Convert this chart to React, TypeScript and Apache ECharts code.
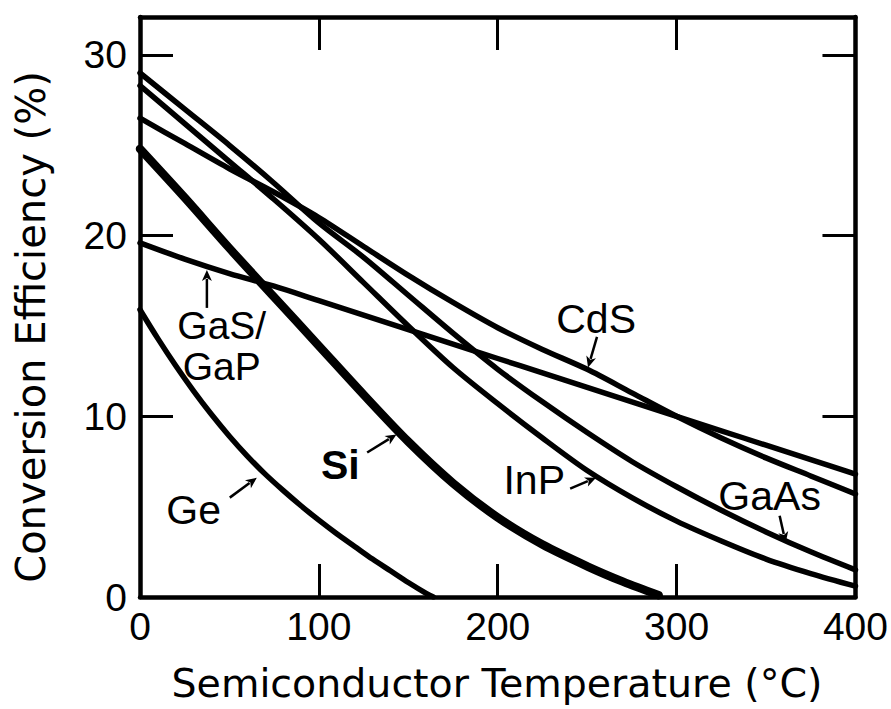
import React, { useEffect, useRef } from "react";
import * as echarts from "echarts";

// Axis ticks
const temperatureTicks = [0, 100, 200, 300, 400];
const efficiencyTicks = [0, 10, 20, 30];

// Curves (temperature °C, efficiency %)
const gaAsT = [0, 25, 50, 75, 100, 125, 150, 175, 200, 225, 250, 275, 300, 325, 350, 375, 400];
const gaAsEff = [29.0, 27.0, 25.0, 22.9, 20.7, 18.8, 16.7, 14.6, 12.6, 10.8, 9.1, 7.5, 6.1, 4.8, 3.6, 2.5, 1.5];

const inPT = [0, 25, 50, 75, 100, 125, 150, 175, 200, 225, 250, 275, 300, 325, 350, 375, 400];
const inPEff = [28.3, 26.2, 24.1, 22.0, 19.8, 17.4, 15.0, 12.7, 10.7, 8.8, 7.0, 5.5, 4.2, 3.1, 2.1, 1.3, 0.6];

const cdST = [0, 25, 50, 75, 100, 125, 150, 175, 200, 225, 250, 275, 300, 325, 350, 375, 400];
const cdSEff = [26.5, 25.1, 23.7, 22.4, 21.0, 19.4, 17.8, 16.3, 14.9, 13.7, 12.6, 11.3, 10.0, 8.8, 7.7, 6.7, 5.7];

const gaSGaPT = [0, 25, 50, 75, 100, 125, 150, 175, 200, 225, 250, 275, 300, 325, 350, 375, 400];
const gaSGaPEff = [19.6, 18.7, 17.9, 17.2, 16.4, 15.6, 14.8, 14.0, 13.2, 12.4, 11.6, 10.8, 10.0, 9.2, 8.4, 7.6, 6.8];

const siT = [0, 25, 50, 75, 100, 125, 150, 175, 200, 225, 250, 270, 290];
const siEff = [24.8, 22.1, 19.3, 16.6, 13.9, 11.2, 8.6, 6.3, 4.4, 2.9, 1.7, 0.85, 0.1];

const geT = [0, 10, 20, 30, 40, 50, 60, 70, 80, 90, 100, 110, 120, 130, 140, 150, 160, 164];
const geEff = [15.9, 14.3, 12.8, 11.4, 10.1, 8.9, 7.8, 6.8, 5.9, 5.05, 4.25, 3.5, 2.8, 2.1, 1.45, 0.8, 0.2, 0.0];

// Annotations in data coordinates: label position, arrow tail, arrow tip
const annotationNames = ["GaS/\nGaP", "CdS", "Si", "Ge", "InP", "GaAs"];
const annotationLabelAt = [[45.7, 13.9], [255, 15.4], [112, 7.3], [30, 4.8], [220.4, 6.5], [352, 5.6]];
const annotationArrowFrom = [[37.4, 16.0], [255.5, 14.4], [127, 8.0], [50.2, 5.5], [240.5, 6.0], [357.6, 4.5]];
const annotationArrowTo = [[37.4, 18.1], [250.5, 12.7], [143.4, 9.0], [65.3, 6.6], [255, 6.6], [361, 3.0]];
const annotationBold = [false, false, true, false, false, false];
const annotationSize = [39, 41, 41, 41, 41, 41];

const pairs = (xs: number[], ys: number[]) => xs.map((x, i) => [x, ys[i]]);

const seriesDefs = [
  { name: "GaAs", xs: gaAsT, ys: gaAsEff, width: 5.5 },
  { name: "InP", xs: inPT, ys: inPEff, width: 5.5 },
  { name: "CdS", xs: cdST, ys: cdSEff, width: 5.5 },
  { name: "GaS/GaP", xs: gaSGaPT, ys: gaSGaPEff, width: 5.5 },
  { name: "Si", xs: siT, ys: siEff, width: 8.5 },
  { name: "Ge", xs: geT, ys: geEff, width: 5.5 },
];

const LABEL_FONT = "Liberation Sans";
const NAME_FONT = "DejaVu Sans";

export default function App() {
  const ref = useRef<HTMLDivElement>(null);

  useEffect(() => {
    if (!ref.current) return;
    const chart = echarts.init(ref.current, undefined, { renderer: "svg" });

    const axisLine = { show: true, onZero: false, lineStyle: { color: "#000", width: 4.5 } };
    const tick = { show: true, inside: true, length: 33, lineStyle: { color: "#000", width: 3 } };
    const yMax = 32.1;

    chart.setOption({
      animation: false,
      backgroundColor: "#fff",
      grid: { left: 140, right: 34, top: 17, bottom: 112, containLabel: false },
      xAxis: [
        {
          type: "value",
          position: "bottom",
          min: temperatureTicks[0],
          max: temperatureTicks[temperatureTicks.length - 1],
          interval: 100,
          axisLine,
          axisTick: tick,
          splitLine: { show: false },
          axisLabel: {
            margin: 10,
            color: "#000",
            fontFamily: LABEL_FONT,
            fontSize: 39,
            formatter: (v: number) => (temperatureTicks.includes(v) ? String(v) : ""),
          },
        },
        {
          type: "value",
          position: "top",
          min: temperatureTicks[0],
          max: temperatureTicks[temperatureTicks.length - 1],
          interval: 100,
          axisLine,
          axisTick: tick,
          splitLine: { show: false },
          axisLabel: { show: false },
        },
      ],
      yAxis: [
        {
          type: "value",
          position: "left",
          min: efficiencyTicks[0],
          max: yMax,
          interval: 10,
          axisLine,
          axisTick: tick,
          splitLine: { show: false },
          axisLabel: {
            margin: 13,
            color: "#000",
            fontFamily: LABEL_FONT,
            fontSize: 39,
            showMaxLabel: false,
            formatter: (v: number) => (efficiencyTicks.includes(v) ? String(v) : ""),
          },
        },
        {
          type: "value",
          position: "right",
          min: efficiencyTicks[0],
          max: yMax,
          interval: 10,
          axisLine,
          axisTick: tick,
          splitLine: { show: false },
          axisLabel: { show: false },
        },
      ],
      series: seriesDefs.map((s) => ({
        type: "line",
        name: s.name,
        xAxisIndex: 0,
        yAxisIndex: 0,
        data: pairs(s.xs, s.ys),
        showSymbol: false,
        symbol: "none",
        smooth: 0.3,
        lineStyle: { color: "#000", width: s.width, cap: "round", join: "round" },
        emphasis: { disabled: true },
        silent: true,
      })),
    });

    const toPx = (p: number[]) =>
      chart.convertToPixel({ xAxisIndex: 0, yAxisIndex: 0 }, p) as number[];

    const graphics: any[] = [];
    annotationNames.forEach((name, i) => {
      const lp = toPx(annotationLabelAt[i]);
      graphics.push({
        type: "text",
        x: lp[0],
        y: lp[1],
        style: {
          text: name,
          fill: "#000",
          font: `${annotationBold[i] ? "bold " : ""}${annotationSize[i]}px "${LABEL_FONT}"`,
          align: "center",
          verticalAlign: "middle",
          lineHeight: 41,
        },
        silent: true,
      });
      const a = toPx(annotationArrowFrom[i]);
      const b = toPx(annotationArrowTo[i]);
      const dx = b[0] - a[0];
      const dy = b[1] - a[1];
      const len = Math.hypot(dx, dy) || 1;
      const ux = dx / len;
      const uy = dy / len;
      const hl = 11;
      const hw = 5;
      const bx = b[0] - ux * hl;
      const by = b[1] - uy * hl;
      graphics.push({
        type: "line",
        shape: { x1: a[0], y1: a[1], x2: bx + ux * 2, y2: by + uy * 2 },
        style: { stroke: "#000", lineWidth: 2.5 },
        silent: true,
      });
      graphics.push({
        type: "polygon",
        shape: {
          points: [
            [b[0], b[1]],
            [bx - uy * hw, by + ux * hw],
            [bx + ux * 3, by + uy * 3],
            [bx + uy * hw, by - ux * hw],
          ],
        },
        style: { fill: "#000" },
        silent: true,
      });
    });

    graphics.push({
      type: "text",
      x: 497,
      y: 683,
      style: {
        text: "Semiconductor Temperature (°C)",
        fill: "#000",
        font: `39.5px "${NAME_FONT}"`,
        align: "center",
        verticalAlign: "middle",
      },
      silent: true,
    });
    graphics.push({
      type: "text",
      x: 31,
      y: 327,
      rotation: Math.PI / 2,
      style: {
        text: "Conversion Efficiency (%)",
        fill: "#000",
        font: `40px "${NAME_FONT}"`,
        align: "center",
        verticalAlign: "middle",
      },
      silent: true,
    });

    chart.setOption({ graphic: graphics });

    return () => chart.dispose();
  }, []);

  return (
    <div
      ref={ref}
      style={{ position: "fixed", left: 0, top: 0, width: 891, height: 709, background: "#fff" }}
    />
  );
}
